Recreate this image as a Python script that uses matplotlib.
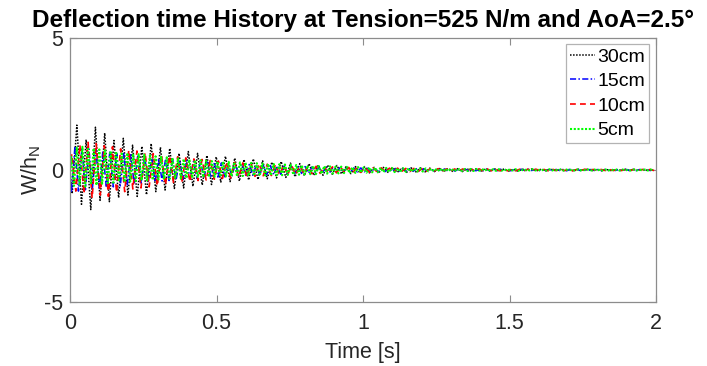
import numpy as np
import matplotlib
matplotlib.use("Agg")
import matplotlib.pyplot as plt

plt.rcParams['font.family'] = ['Liberation Sans', 'DejaVu Sans']

# Successive extrema (alternating peaks/troughs) of the normalised deflection W/h_N
# for each chord length, sampled every half period of the dominant oscillation.
t0_30, half_30 = 0.0075, 0.01585
w_30cm = [-0.90, 1.70, -1.30, 1.15, -1.50, 1.62, -1.15, 1.40, -1.20, 1.12,
          -1.05, 1.20, -0.95, 0.94, -1.00, 0.90, -0.94, 1.00, -0.82, 0.86,
          -0.76, 0.82, -0.70, 0.63, -0.68, 0.70, -0.62, 0.63, -0.57, 0.55,
          -0.55, 0.50, -0.46, 0.52, -0.44, 0.45, -0.42, 0.40, -0.38, 0.42,
          -0.36, 0.35, -0.33, 0.30, -0.30, 0.32, -0.28, 0.26, -0.26, 0.24,
          -0.22, 0.24, -0.20, 0.19, -0.20, 0.18, -0.16, 0.17, -0.15, 0.14,
          -0.14, 0.13, -0.12, 0.13, -0.11, 0.10, -0.11, 0.10, -0.09, 0.10,
          -0.09, 0.08, -0.09, 0.08, -0.07, 0.08, -0.07, 0.07, -0.06, 0.07,
          -0.06, 0.06, -0.06, 0.05, -0.06, 0.05, -0.05, 0.05, -0.04, 0.05,
          -0.04, 0.04, -0.04, 0.04, -0.04, 0.03, -0.04, 0.03, -0.03, 0.04,
          -0.03, 0.03, -0.03, 0.03, -0.02, 0.03, -0.03, 0.02, -0.03, 0.03,
          -0.02, 0.03, -0.02, 0.02, -0.03, 0.02, -0.02, 0.02, -0.02, 0.03,
          -0.02, 0.02, -0.02, 0.02, -0.02]

t0_15, half_15 = 0.005, 0.0119
w_15cm = [-0.85, 0.90, -0.80, 0.85, -0.75, 0.80, -0.72, 0.78, -0.70, 0.72,
          -0.66, 0.70, -0.64, 0.62, -0.60, 0.62, -0.56, 0.58, -0.54, 0.52,
          -0.50, 0.52, -0.48, 0.46, -0.46, 0.44, -0.42, 0.43, -0.40, 0.40,
          -0.38, 0.37, -0.36, 0.36, -0.34, 0.33, -0.32, 0.32, -0.30, 0.30,
          -0.29, 0.28, -0.27, 0.27, -0.26, 0.25, -0.24, 0.24, -0.23, 0.22,
          -0.22, 0.21, -0.20, 0.20, -0.19, 0.19, -0.18, 0.17, -0.17, 0.16,
          -0.16, 0.15, -0.15, 0.14, -0.14, 0.13, -0.13, 0.13, -0.12, 0.12,
          -0.11, 0.11, -0.11, 0.10, -0.10, 0.10, -0.09, 0.09, -0.09, 0.09,
          -0.08, 0.08, -0.08, 0.08, -0.07, 0.07, -0.07, 0.07, -0.07, 0.06,
          -0.06, 0.06, -0.06, 0.06, -0.06, 0.05, -0.05, 0.05, -0.05, 0.05,
          -0.05, 0.05, -0.04, 0.04, -0.04, 0.04, -0.04, 0.04, -0.04, 0.04,
          -0.04, 0.03, -0.04, 0.03, -0.03, 0.03, -0.03, 0.03, -0.03, 0.03,
          -0.03, 0.03, -0.03, 0.03, -0.02, 0.03, -0.03, 0.02, -0.03, 0.03,
          -0.02, 0.03, -0.02, 0.02, -0.03, 0.02, -0.02, 0.03, -0.02, 0.02,
          -0.02, 0.02, -0.03, 0.02, -0.02, 0.02, -0.02, 0.02, -0.02, 0.02,
          -0.02, 0.02, -0.02, 0.02, -0.02, 0.02, -0.02, 0.02, -0.02, 0.02,
          -0.02, 0.02, -0.02, 0.02, -0.02, 0.02, -0.02, 0.02]

t0_10, half_10 = 0.006, 0.0139
w_10cm = [0.60, -0.80, 0.95, -0.90, 1.05, -1.06, 1.00, -0.95, 0.92, -1.00,
          0.88, -0.85, 0.80, -0.82, 0.75, -0.72, 0.72, -0.68, 0.66, -0.64,
          0.62, -0.60, 0.58, -0.56, 0.54, -0.50, 0.50, -0.48, 0.46, -0.44,
          0.42, -0.40, 0.40, -0.38, 0.36, -0.35, 0.34, -0.32, 0.31, -0.30,
          0.29, -0.28, 0.27, -0.26, 0.25, -0.24, 0.24, -0.22, 0.22, -0.21,
          0.20, -0.19, 0.19, -0.18, 0.17, -0.17, 0.16, -0.15, 0.15, -0.14,
          0.14, -0.13, 0.13, -0.12, 0.12, -0.11, 0.11, -0.10, 0.10, -0.10,
          0.09, -0.09, 0.09, -0.08, 0.08, -0.08, 0.08, -0.07, 0.07, -0.07,
          0.07, -0.06, 0.06, -0.06, 0.06, -0.06, 0.05, -0.05, 0.05, -0.05,
          0.05, -0.05, 0.04, -0.05, 0.04, -0.04, 0.04, -0.04, 0.04, -0.04,
          0.04, -0.03, 0.04, -0.03, 0.03, -0.03, 0.03, -0.03, 0.03, -0.03,
          0.03, -0.03, 0.03, -0.02, 0.03, -0.03, 0.02, -0.03, 0.03, -0.02,
          0.03, -0.02, 0.02, -0.03, 0.02, -0.02, 0.03, -0.02, 0.02, -0.02,
          0.02, -0.02, 0.02, -0.02, 0.02, -0.02, 0.02, -0.02, 0.02, -0.02,
          0.02, -0.02, 0.02, -0.02]

t0_5, half_5 = 0.004, 0.0096
w_5cm = [0.50, -0.60, 0.85, -0.55, 0.88, -0.63, 0.80, -0.50, 0.82, -0.58,
         0.78, -0.52, 0.75, -0.50, 0.72, -0.48, 0.70, -0.45, 0.68, -0.46,
         0.65, -0.44, 0.62, -0.42, 0.60, -0.40, 0.58, -0.40, 0.55, -0.38,
         0.52, -0.36, 0.50, -0.35, 0.48, -0.34, 0.46, -0.33, 0.44, -0.32,
         0.42, -0.31, 0.40, -0.30, 0.38, -0.29, 0.37, -0.28, 0.35, -0.27,
         0.34, -0.26, 0.33, -0.25, 0.32, -0.25, 0.31, -0.24, 0.30, -0.24,
         0.29, -0.23, 0.28, -0.23, 0.27, -0.22, 0.26, -0.22, 0.25, -0.21,
         0.24, -0.21, 0.23, -0.20, 0.22, -0.20, 0.21, -0.19, 0.20, -0.18,
         0.19, -0.18, 0.18, -0.17, 0.17, -0.16, 0.16, -0.16, 0.15, -0.15,
         0.15, -0.14, 0.14, -0.14, 0.13, -0.13, 0.13, -0.12, 0.12, -0.12,
         0.11, -0.11, 0.11, -0.10, 0.10, -0.10, 0.10, -0.09, 0.09, -0.09,
         0.09, -0.08, 0.08, -0.08, 0.08, -0.08, 0.07, -0.07, 0.07, -0.07,
         0.07, -0.06, 0.06, -0.06, 0.06, -0.06, 0.06, -0.05, 0.05, -0.05,
         0.05, -0.05, 0.05, -0.05, 0.05, -0.04, 0.04, -0.04, 0.04, -0.04,
         0.04, -0.04, 0.04, -0.04, 0.04, -0.03, 0.04, -0.03, 0.03, -0.03,
         0.03, -0.03, 0.03, -0.03, 0.03, -0.03, 0.03, -0.02, 0.03, -0.03,
         0.02, -0.03, 0.03, -0.02, 0.03, -0.02, 0.02, -0.03, 0.02, -0.02,
         0.03, -0.02, 0.02, -0.02, 0.02, -0.02, 0.02, -0.02, 0.02, -0.02,
         0.02, -0.02, 0.02, -0.02, 0.02, -0.02, 0.02, -0.02, 0.02, -0.02,
         0.02, -0.02, 0.02, -0.02, 0.02, -0.02, 0.02, -0.02, 0.02, -0.02,
         0.02, -0.02, 0.02, -0.02, 0.02, -0.02, 0.02, -0.02]

labels = ['30cm', '15cm', '10cm', '5cm']
colors = ['black', 'blue', 'red', '#00ff00']
styles = [(0, (1, 1)), (0, (4, 1.5, 1, 1.5)), (0, (3.5, 2.5)), (0, (1, 0.8))]
widths = [1.1, 1.1, 1.2, 1.5]
x_ticks = [0, 0.5, 1, 1.5, 2]
y_ticks = [-5, 0, 5]


def history(t0, half, values):
    t = t0 + half * np.arange(len(values))
    return np.concatenate([[0.0], t]), np.concatenate([[0.0], values])


series = [history(t0_30, half_30, w_30cm),
          history(t0_15, half_15, w_15cm),
          history(t0_10, half_10, w_10cm),
          history(t0_5, half_5, w_5cm)]

fig = plt.figure(figsize=(7.07, 3.66), dpi=100)
ax = fig.add_axes([70 / 707, 1 - 302 / 366, 586 / 707, 264 / 366])

for (t, w), lab, c, ls, lw in zip(series, labels, colors, styles, widths):
    ax.plot(t, w, linestyle=ls, color=c, linewidth=lw, label=lab)

ax.set_xlim(0, 2)
ax.set_ylim(-5, 5)
ax.set_xticks(x_ticks)
ax.set_xticklabels(['0', '0.5', '1', '1.5', '2'])
ax.set_yticks(y_ticks)
ax.set_yticklabels(['-5', '0', '5'])

frame = '#8c8c8c'
for s in ax.spines.values():
    s.set_color(frame)
    s.set_linewidth(0.9)
ax.tick_params(direction='in', length=5, width=0.8, color=frame,
               top=True, right=True, labelsize=15.5, labelcolor='#262626')
ax.tick_params(axis='x', pad=8)
ax.tick_params(axis='y', pad=5)

ax.set_xlabel('Time [s]', fontsize=15.5, color='#262626', labelpad=6)
ax.set_ylabel(r'W/h$_\mathregular{N}$', fontsize=15.5, color='#262626', labelpad=1)
ax.set_title('Deflection time History at Tension=525 N/m and AoA=2.5°',
             fontsize=17.5, fontweight='bold', color='black', pad=8)

leg = ax.legend(loc='upper right', bbox_to_anchor=(1 - 7 / 586, 1 - 6 / 264),
                borderaxespad=0, fontsize=14, handlelength=1.3, handletextpad=0.1,
                labelspacing=0.36, borderpad=0.2, frameon=True, fancybox=False)
leg.get_frame().set_edgecolor('#a0a0a0')
leg.get_frame().set_linewidth(0.9)

fig.savefig('out.png', dpi=100)
